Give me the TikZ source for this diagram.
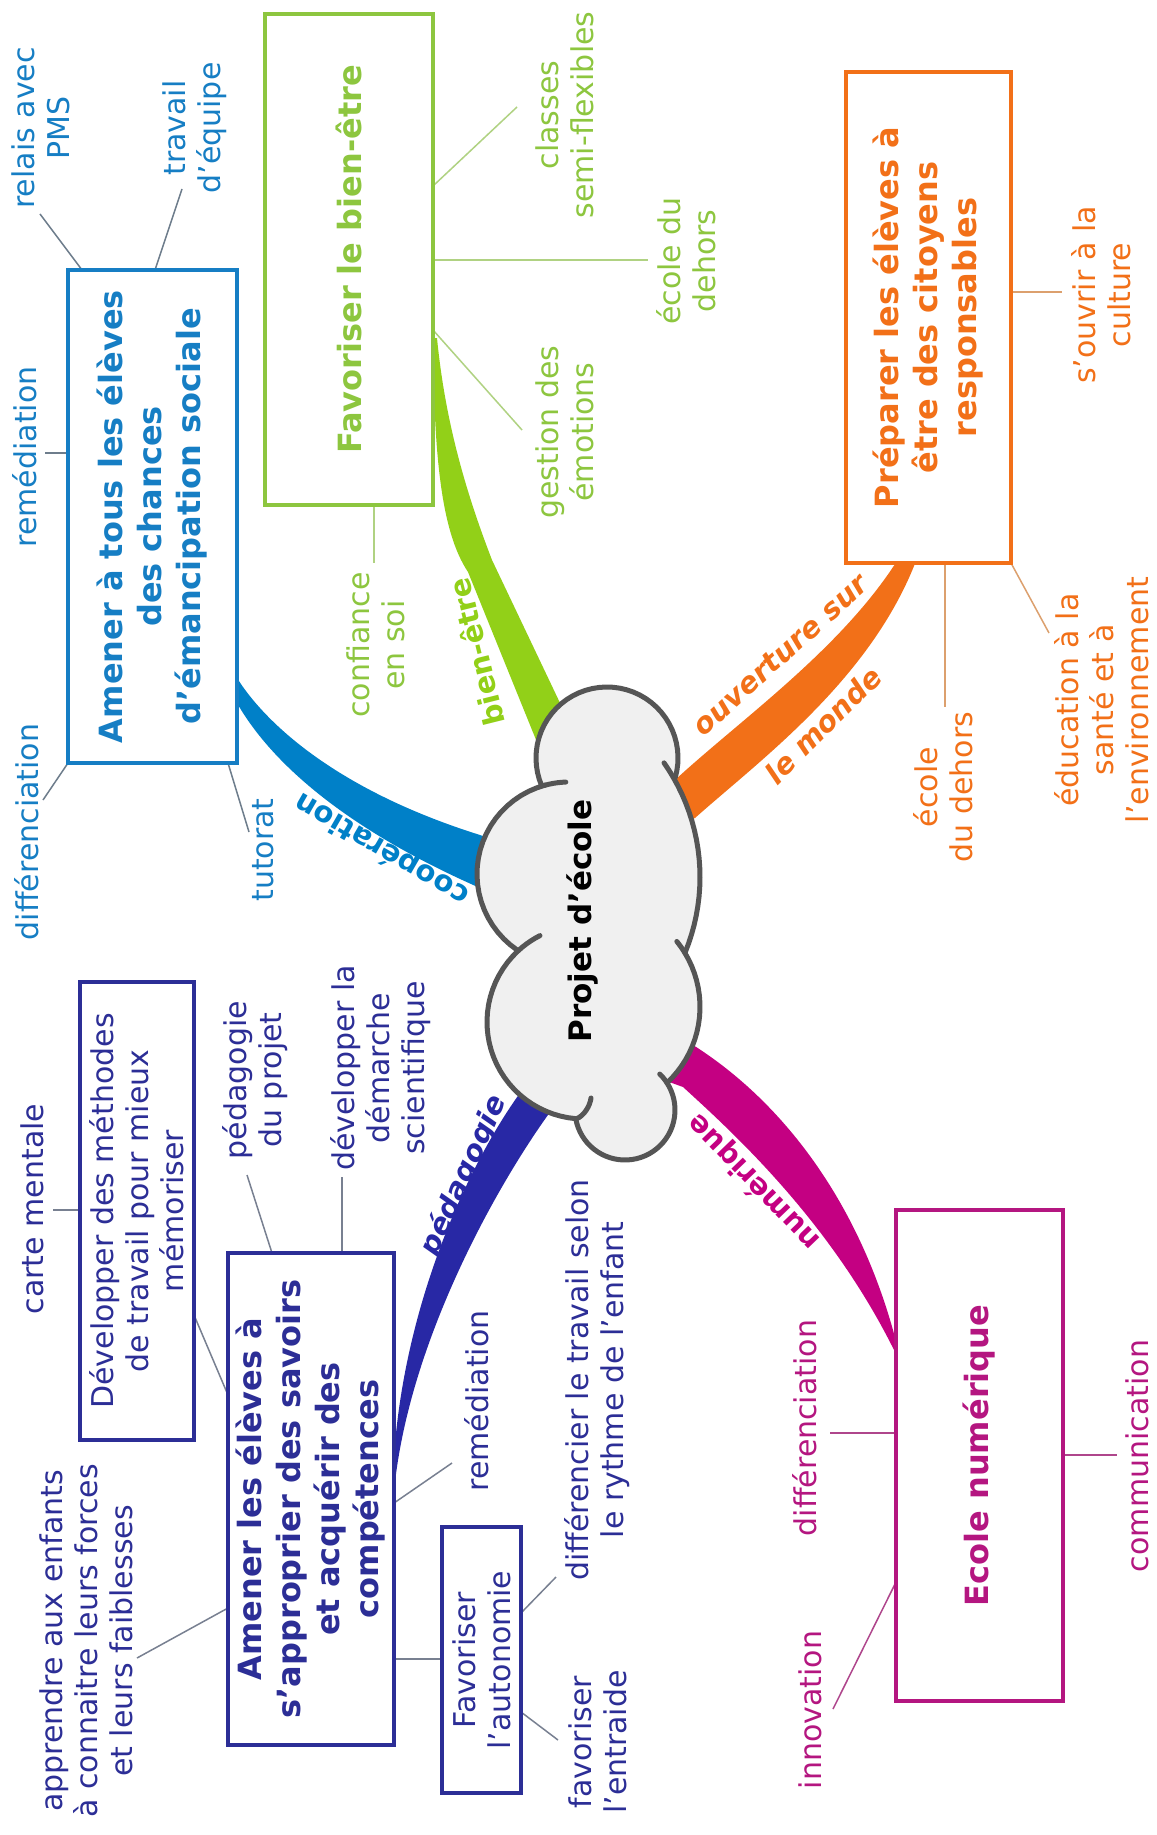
\documentclass[tikz,border=0pt]{standalone}
\usepackage{fontspec}
\setmainfont{DejaVu Sans}
\usetikzlibrary{calc}
\definecolor{cgreen}{RGB}{141,198,63}
\definecolor{cgreenb}{RGB}{146,208,24}
\definecolor{cgreenl}{RGB}{176,210,130}
\definecolor{cblue}{RGB}{22,126,196}
\definecolor{cblueb}{RGB}{0,128,200}
\definecolor{cbluel}{RGB}{110,125,140}
\definecolor{corange}{RGB}{242,112,24}
\definecolor{corangel}{RGB}{220,160,110}
\definecolor{cmag}{RGB}{180,22,128}
\definecolor{cmagb}{RGB}{196,0,130}
\definecolor{cmagl}{RGB}{175,70,140}
\definecolor{cnavy}{RGB}{44,46,150}
\definecolor{cnavyb}{RGB}{40,40,165}
\definecolor{cnavyl}{RGB}{120,128,145}
\definecolor{ccloud}{RGB}{240,240,240}
\definecolor{ccloudl}{RGB}{85,85,85}
\tikzset{
  leaf/.style={font=\fontsize{30}{35}\selectfont, align=center, inner sep=0pt, rotate=90},
  ttl/.style={font=\fontsize{32}{39}\selectfont\bfseries, align=center, inner sep=0pt, rotate=90, line width=4pt, draw, fill=white},
  sub/.style={font=\fontsize{30}{35}\selectfont, align=center, inner sep=0pt, rotate=90, line width=4pt, draw, fill=white},
  blab/.style={font=\fontsize{29}{34}\selectfont\bfseries, inner sep=0pt},
  blabit/.style={font=\fontsize{29}{34}\selectfont\bfseries\itshape, inner sep=0pt},
  conn/.style={line width=1.5pt},
  cloudline/.style={draw=ccloudl, line width=5pt, line cap=round, line join=round}
}
\begin{document}
\begin{tikzpicture}[x=1pt,y=-1pt]
\useasboundingbox (0,0) rectangle (1156,1835);
\fill[white] (0,0) rectangle (1156,1835);

% ---------- branches ----------
\fill[cgreenb] (433,338) .. controls (434,450) and (440,530) .. (468,572) -- (545,762) -- (580,745) -- (492,560) .. controls (465,490) and (445,420) .. (437,338) -- cycle;
\fill[cblueb] (237,678) .. controls (262,718) and (330,788) .. (480,835) -- (525,850) -- (525,900) -- (480,888) .. controls (330,822) and (265,752) .. (237,703) -- cycle;
\fill[cnavyb] (553,1108) .. controls (500,1180) and (415,1330) .. (396,1474) -- (393,1474) .. controls (400,1310) and (468,1165) .. (520,1093) -- (540,1065) -- (575,1080) -- cycle;
\fill[cmagb] (693,1045) .. controls (780,1100) and (860,1200) .. (897,1345) -- (895,1352) .. controls (830,1220) and (730,1130) .. (683,1087) -- (650,1075) -- (665,1030) -- cycle;
\fill[corange] (675,780) .. controls (740,720) and (840,650) .. (897,561) -- (916,561) .. controls (870,680) and (760,760) .. (695,818) -- (660,830) -- (650,790) -- cycle;

% ---------- cloud ----------
\path[cloudline, fill=ccloud]
  plot[domain=-16:203, samples=40] ({607+71*cos(\x)},{758-71*sin(\x)})
  -- plot[domain=105:235.6, samples=25] ({569+92*cos(\x)},{874-92*sin(\x)})
  -- plot[domain=132.9:265.2, samples=30] ({584+97*cos(\x)},{1022-97*sin(\x)})
  -- plot[domain=190:393, samples=40] ({625+50*cos(\x)},{1110-50*sin(\x)})
  -- plot[domain=-47:31.2, samples=20] ({596+104*cos(\x)},{1006.9-104*sin(\x)})
  -- plot[domain=-22.4:30.2, samples=20] ({501+199*cos(\x)},{877-199*sin(\x)})
  -- cycle;
\draw[cloudline] plot[domain=92:105, samples=6] ({569+92*cos(\x)},{874-92*sin(\x)});
\draw[cloudline] plot[domain=117:132.9, samples=6] ({584+97*cos(\x)},{1022-97*sin(\x)});
\draw[cloudline] plot[domain=30.2:35, samples=6] ({501+199*cos(\x)},{877-199*sin(\x)});
\draw[cloudline] plot[domain=33:46, samples=6] ({625+50*cos(\x)},{1110-50*sin(\x)});
\draw[cloudline] plot[domain=31.2:39, samples=6] ({596+104*cos(\x)},{1006.9-104*sin(\x)});
\draw[cloudline] (576,1119) .. controls (584,1116) and (590,1106) .. (591,1098);
\node[font=\fontsize{31}{36}\selectfont\bfseries, rotate=90, inner sep=0pt] (centre) at (582,921) {Projet d'école};

% ---------- connector coordinates ----------
\coordinate (g1a) at (433,186); \coordinate (g1b) at (517,107);
\coordinate (g2a) at (433,260); \coordinate (g2b) at (648,260);
\coordinate (g3a) at (433,330); \coordinate (g3b) at (522,430);
\coordinate (g4a) at (374,505); \coordinate (g4b) at (374,563);
\coordinate (b1a) at (82,270);  \coordinate (b1b) at (40,214);
\coordinate (b2a) at (155,270); \coordinate (b2b) at (182,189);
\coordinate (b3a) at (68,453);  \coordinate (b3b) at (45,453);
\coordinate (b4a) at (68,763);  \coordinate (b4b) at (43,800);
\coordinate (b5a) at (228,763); \coordinate (b5b) at (249,832);
\coordinate (o1a) at (1011,292); \coordinate (o1b) at (1062,292);
\coordinate (o2a) at (945,563);  \coordinate (o2b) at (945,707);
\coordinate (o3a) at (1011,563); \coordinate (o3b) at (1049,633);
\coordinate (m1a) at (896,1433); \coordinate (m1b) at (830,1433);
\coordinate (m2a) at (896,1582); \coordinate (m2b) at (833,1709);
\coordinate (m3a) at (1063,1455); \coordinate (m3b) at (1117,1455);
\coordinate (n1a) at (80,1210);  \coordinate (n1b) at (53,1210);
\coordinate (n2a) at (272,1253); \coordinate (n2b) at (247,1175);
\coordinate (n3a) at (342,1253); \coordinate (n3b) at (342,1177);
\coordinate (n4a) at (194,1315); \coordinate (n4b) at (228,1395);
\coordinate (n5a) at (228,1608); \coordinate (n5b) at (137,1658);
\coordinate (n6a) at (394,1503); \coordinate (n6b) at (452,1463);
\coordinate (n7a) at (394,1659); \coordinate (n7b) at (442,1659);
\coordinate (n8a) at (521,1613); \coordinate (n8b) at (556,1577);
\coordinate (n9a) at (521,1712); \coordinate (n9b) at (558,1740);

\draw[conn, cgreenl] (g1a) -- (g1b); \draw[conn, cgreenl] (g2a) -- (g2b);
\draw[conn, cgreenl] (g3a) -- (g3b); \draw[conn, cgreenl] (g4a) -- (g4b);
\draw[conn, cbluel] (b1a) -- (b1b); \draw[conn, cbluel] (b2a) -- (b2b);
\draw[conn, cbluel] (b3a) -- (b3b); \draw[conn, cbluel] (b4a) -- (b4b);
\draw[conn, cbluel] (b5a) -- (b5b);
\draw[conn, corangel] (o1a) -- (o1b); \draw[conn, corangel] (o2a) -- (o2b);
\draw[conn, corangel] (o3a) -- (o3b);
\draw[conn, cmagl] (m1a) -- (m1b); \draw[conn, cmagl] (m2a) -- (m2b);
\draw[conn, cmagl] (m3a) -- (m3b);
\draw[conn, cnavyl] (n1a) -- (n1b); \draw[conn, cnavyl] (n2a) -- (n2b);
\draw[conn, cnavyl] (n3a) -- (n3b); \draw[conn, cnavyl] (n4a) -- (n4b);
\draw[conn, cnavyl] (n5a) -- (n5b); \draw[conn, cnavyl] (n6a) -- (n6b);
\draw[conn, cnavyl] (n7a) -- (n7b); \draw[conn, cnavyl] (n8a) -- (n8b);
\draw[conn, cnavyl] (n9a) -- (n9b);

% ---------- main boxes ----------
\node[ttl, draw=cgreen, text=cgreen, minimum width=491pt, minimum height=168pt] (gT) at (349,259.5) {Favoriser le bien-être};
\node[ttl, draw=cblue, text=cblue, minimum width=493pt, minimum height=169pt] (bT) at (152.5,516.5) {Amener à tous les élèves\\des chances\\d'émancipation sociale};
\node[ttl, draw=corange, text=corange, minimum width=491pt, minimum height=165pt] (oT) at (928.5,317.5) {Préparer les élèves à\\être des citoyens\\responsables};
\node[ttl, draw=cmag, text=cmag, minimum width=491pt, minimum height=167pt] (mT) at (979.5,1455.5) {Ecole numérique};
\node[ttl, draw=cnavy, text=cnavy, minimum width=492pt, minimum height=166pt] (nT) at (311,1499) {Amener les élèves à\\s'approprier des savoirs\\et acquérir des\\compétences};
\node[sub, draw=cnavy, text=cnavy, minimum width=458pt, minimum height=114pt] (nDev) at (137,1211) {Développer des méthodes\\de travail pour mieux\\mémoriser};
\node[sub, draw=cnavy, text=cnavy, minimum width=266pt, minimum height=79pt] (nAut) at (481.5,1660) {Favoriser\\l'autonomie};

% ---------- leaves ----------
\node[leaf, text=cgreen] (gL1) at (565,115) {classes\\semi-flexibles};
\node[leaf, text=cgreen] (gL2) at (686.5,261) {école du\\dehors};
\node[leaf, text=cgreen] (gL3) at (565,432) {gestion des\\émotions};
\node[leaf, text=cgreen] (gL4) at (375.5,645) {confiance\\en soi};

\node[leaf, text=cblue] (bL1) at (41,128) {relais avec\\PMS};
\node[leaf, text=cblue] (bL2) at (194.5,128) {travail\\d'équipe};
\node[leaf, text=cblue] (bL3) at (25,457) {remédiation};
\node[leaf, text=cblue] (bL4) at (27,832) {différenciation};
\node[leaf, text=cblue] (bL5) at (263,850) {tutorat};

\node[leaf, text=corange] (oL1) at (1101.5,295) {s'ouvrir à la\\culture};
\node[leaf, text=corange] (oL2) at (943,787) {école\\du dehors};
\node[leaf, text=corange] (oL3) at (1102,700) {éducation à la\\santé et à\\l'environnement};

\node[leaf, text=cmag] (mL1) at (805,1428) {différenciation};
\node[leaf, text=cmag] (mL2) at (810,1710) {innovation};
\node[leaf, text=cmag] (mL3) at (1137,1456) {communication};

\node[leaf, text=cnavy] (nL1) at (32,1209) {carte mentale};
\node[leaf, text=cnavy] (nL2) at (255.5,1080) {pédagogie\\du projet};
\node[leaf, text=cnavy] (nL3) at (381,1068) {développer la\\démarche\\scientifique};
\node[leaf, text=cnavy] (nL4) at (86,1641) {apprendre aux enfants\\à connaitre leurs forces\\et leurs faiblesses};
\node[leaf, text=cnavy] (nL5) at (477,1401) {remédiation};
\node[leaf, text=cnavy] (nL6) at (597,1380) {différencier le travail selon\\le rythme de l'enfant};
\node[leaf, text=cnavy] (nL7) at (597.5,1742) {favoriser\\l'entraide};

% ---------- branch labels ----------
\node[blab, text=cgreenb, rotate=104] (lbG) at (476,652) {bien-être};
\node[blab, text=cblueb, rotate=150] (lbB) at (382,849) {coopération};
\node[blabit, text=cnavyb, rotate=66] (lbN) at (464,1176) {pédagogie};
\node[blab, text=cmagb, rotate=134] (lbM) at (754,1182) {numérique};
\node[blabit, text=corange, rotate=42] (lbO1) at (780,655) {ouverture sur};
\node[blabit, text=corange, rotate=45] (lbO2) at (823,725) {le monde};
\end{tikzpicture}
\end{document}
